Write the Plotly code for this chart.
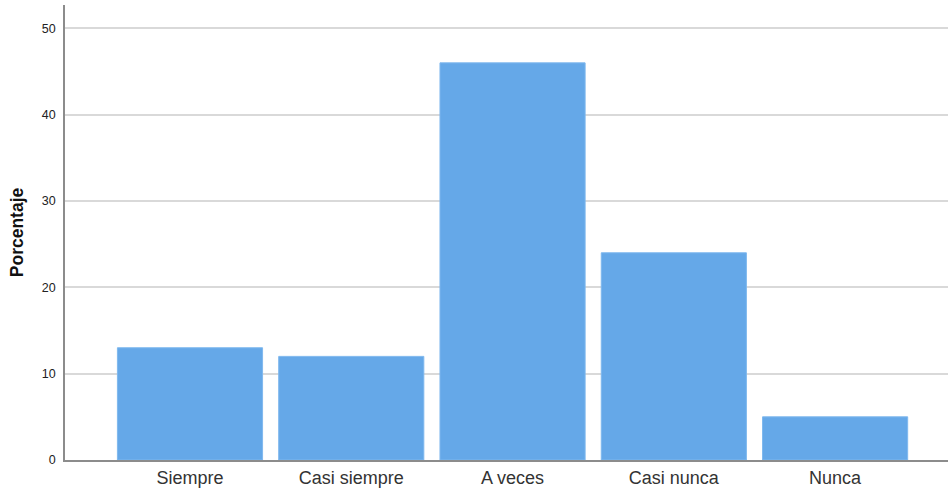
import plotly.graph_objects as go

categories = ["Siempre", "Casi siempre", "A veces", "Casi nunca", "Nunca"]
percentages = [13, 12, 46, 24, 5]
y_ticks = [0, 10, 20, 30, 40, 50]

fig = go.Figure(go.Bar(
    x=categories, y=percentages,
    marker=dict(color="#65A8E8", line=dict(color="#7FB8EE", width=1)),
    width=0.9,
))

fig.update_layout(
    width=950, height=491,
    margin=dict(l=65, r=2, t=5, b=31, autoexpand=False),
    plot_bgcolor="white", paper_bgcolor="white",
    showlegend=False,
    font=dict(family="Liberation Sans, Arial, sans-serif", color="#222222"),
    xaxis=dict(
        range=[-0.775, 4.7], automargin=False,
        showgrid=False, showline=True, linecolor="#8c8c8c", linewidth=1.5,
        ticks="", tickfont=dict(size=18, color="#333333"),
        ticklabelstandoff=1,
    ),
    yaxis=dict(
        range=[0, 52.7], automargin=False,
        tickvals=y_ticks,
        showgrid=True, gridcolor="#d9d9d9", gridwidth=1.5,
        showline=True, linecolor="#8c8c8c", linewidth=1.5,
        zeroline=False,
        ticks="", tickfont=dict(size=12.5, color="#222222"),
        ticklabelstandoff=5,
        title=dict(text="<b>Porcentaje</b>", font=dict(size=17.5, color="#111111"), standoff=14),
    ),
)

fig.write_html("out.html", config={"displayModeBar": False},
               post_script="document.body.style.margin='0';document.body.style.padding='0';")
